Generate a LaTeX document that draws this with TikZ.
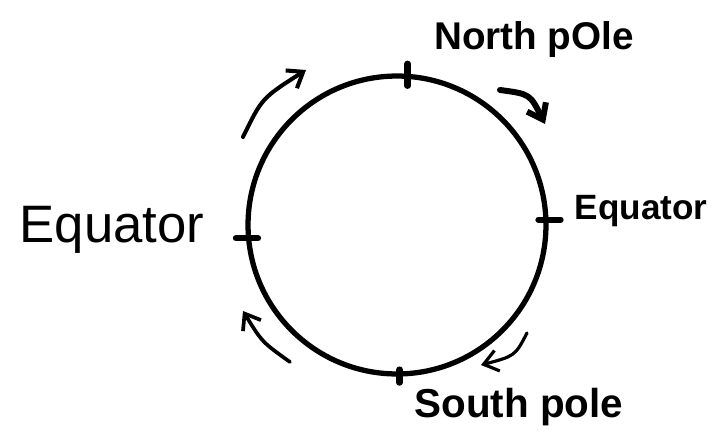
\documentclass[tikz,border=0pt]{standalone}
\usepackage{fontspec}
\setmainfont{Liberation Sans}
\usepackage{tikz}
\usetikzlibrary{arrows.meta, calc}

\begin{document}
\begin{tikzpicture}[
  x=0.02cm, y=-0.02cm,
  globe/.style={draw, circle, line width=3pt, minimum size=5.96cm,
                inner sep=0pt},
  tick/.style={line width=3.6pt, line cap=round},
  lbl/.style={inner sep=0pt, anchor=center},
  turn/.style={line cap=round, line join=round,
               -{Straight Barb[length=8pt, width=12pt]}},
]
  \useasboundingbox (0,0) rectangle (717,432);

  \node[globe] (earth) at (397,225) {};

  % pole and equator marks
  \draw[tick] ($(earth.86)+(0,12)$) -- ($(earth.86)+(0,-10)$);
  \draw[tick] ($(earth.2)+(-10,0)$) -- ($(earth.2)+(12,0)$);
  \draw[tick] ($(earth.185)+(-10,0)$) -- ($(earth.185)+(12,0)$);
  \draw[tick] ($(earth.271)+(0,-7)$) -- ($(earth.271)+(0,6)$);

  \node[lbl, font=\bfseries\fontsize{22}{26}\selectfont] (north) at (534,40) {North pOle};
  \node[lbl, font=\bfseries\fontsize{20}{24}\selectfont] (eqright) at (641,211) {Equator};
  \node[lbl, font=\fontsize{30}{34}\selectfont] (eqleft) at (112,230) {Equator};
  \node[lbl, font=\bfseries\fontsize{23}{27}\selectfont] (south) at (519,407) {South pole};

  % rotation arrows
  \coordinate (tlA) at (243,137);
  \coordinate (tlB) at (306,70);
  \coordinate (trA) at (500,90);
  \coordinate (trB) at (545,124);
  \coordinate (brA) at (527,333);
  \coordinate (brB) at (481,365);
  \coordinate (blA) at (290,362);
  \coordinate (blB) at (243,311);

  \draw[turn, line width=2.3pt] (tlA) .. controls (262,98) .. (tlB);
  \draw[turn, line width=3.4pt] (trA) .. controls (530,94) .. (trB);
  \draw[turn, line width=1.8pt] (brA) .. controls (515,356) .. (brB);
  \draw[turn, line width=2.1pt] (blA) .. controls (262,342) .. (blB);
\end{tikzpicture}
\end{document}
